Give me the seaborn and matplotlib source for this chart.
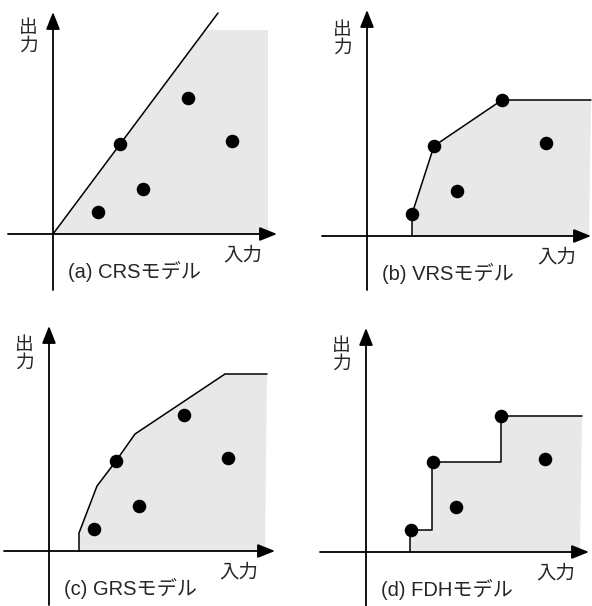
import numpy as np
import pandas as pd
import seaborn as sns
import matplotlib.pyplot as plt

# same five DMUs in every panel (input, output)
inputs = [4.5, 6.7, 9.0, 13.5, 17.9]
outputs = [2.2, 9.0, 4.5, 13.6, 9.3]

# frontier vertices for each model
crs_x = [0.0, 16.5]
crs_y = [0.0, 22.1]
crs_shade_x = [0.0, 15.2, 21.5, 21.5]
crs_shade_y = [0.0, 20.4, 20.4, 0.0]

vrs_x = [4.5, 4.5, 6.7, 13.5, 22.4]
vrs_y = [0.0, 2.2, 9.0, 13.6, 13.6]

grs_x = [3.0, 3.0, 4.8, 6.7, 8.6, 17.6, 21.8]
grs_y = [0.0, 1.8, 6.5, 9.0, 11.7, 17.7, 17.7]

fdh_x = [4.4, 4.4, 6.6, 6.6, 13.5, 13.5, 21.6]
fdh_y = [0.0, 2.2, 2.2, 9.0, 9.0, 13.6, 13.6]

titles = ['(a) CRSモデル', '(b) VRSモデル', '(c) GRSモデル', '(d) FDHモデル']

sns.set_theme(style='white')
plt.rcParams['font.family'] = ['Liberation Sans', 'Noto Sans CJK JP']

W, H = 592, 606
fig = plt.figure(figsize=(W / 100, H / 100), dpi=100)
fig.patch.set_facecolor('white')

# panel pixel boxes (left, top) and origin pixel position
panels = [
    dict(box=(0, 0), origin=(53, 234), xend=22.4, ybot=-5.6, ytop=22.2, xstart=-4.5),
    dict(box=(296, 0), origin=(367, 236), xend=22.4, ybot=-5.4, ytop=22.6, xstart=-4.5),
    dict(box=(0, 303), origin=(49, 551), xend=22.6, ybot=-5.4, ytop=22.5, xstart=-4.5),
    dict(box=(296, 303), origin=(366, 552), xend=22.3, ybot=-5.4, ytop=22.4, xstart=-4.6),
]

shade_col = '#e8e8e8'
df = pd.DataFrame({'input': inputs, 'output': outputs})

for i, p in enumerate(panels):
    bx, by = p['box']
    ox, oy = p['origin']
    ax = fig.add_axes([bx / W, 1 - (by + 303) / H, 296 / W, 303 / H])
    ax.set_xlim(-(ox - bx) / 10, (bx + 296 - ox) / 10)
    ax.set_ylim(-(by + 303 - oy) / 10, (oy - by) / 10)
    ax.axis('off')

    if i == 0:
        ax.fill(crs_shade_x, crs_shade_y, color=shade_col, lw=0, zorder=1)
        ax.plot(crs_x, crs_y, color='black', lw=1.1, zorder=3)
    else:
        fx, fy = [(vrs_x, vrs_y), (grs_x, grs_y), (fdh_x, fdh_y)][i - 1]
        ax.fill(fx + [fx[-1] - 0.2], fy + [0.0], color=shade_col, lw=0, zorder=1)
        ax.plot(fx, fy, color='black', lw=1.1, zorder=3)

    # axes arrows
    arr = dict(arrowstyle='-|>,head_length=0.75,head_width=0.3', color='black',
               lw=1.3, mutation_scale=14, shrinkA=0, shrinkB=0)
    ax.annotate('', xy=(p['xend'], 0), xytext=(p['xstart'], 0), arrowprops=arr, zorder=4)
    ax.annotate('', xy=(0, p['ytop']), xytext=(0, p['ybot']), arrowprops=arr, zorder=4)

    sns.scatterplot(data=df, x='input', y='output', ax=ax, color='black', s=95,
                    linewidth=0, zorder=5, legend=False)
    ax.axis('off')

    ax.text(-2.45, 19.7, '出\n力', ha='center', va='center', fontsize=13.5, linespacing=1.05)
    ax.text(18.95, -2.15, '入力', ha='center', va='center', fontsize=14)
    ax.text(8.1, -3.7, titles[i], ha='center', va='center', fontsize=14.5)

fig.savefig('out.png', dpi=100, facecolor='white')
